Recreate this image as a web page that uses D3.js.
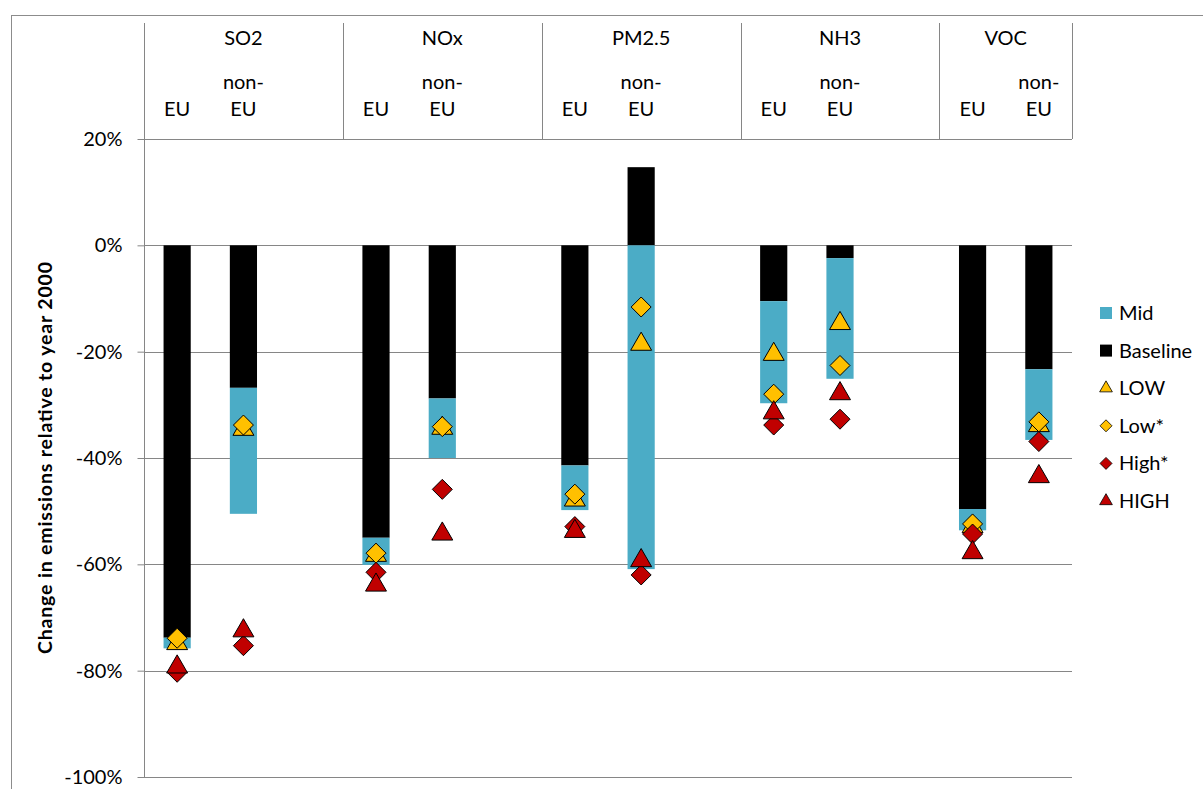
<!DOCTYPE html>
<html>
<head>
<meta charset="utf-8">
<script src="https://cdn.jsdelivr.net/npm/d3@7"></script>
<style>
  body { margin: 0; background: #fff; }
  text { font-family: Lato, "Liberation Sans", sans-serif; }
</style>
</head>
<body>
<svg id="chart" width="1203" height="789"></svg>
<script>
// --- data (percent change relative to 2000) ---
const pollutants = ["SO2", "NOx", "PM2.5", "NH3", "VOC"];
const regions = ["EU", "non-EU"];
// order: SO2 EU, SO2 non-EU, NOx EU, NOx non-EU, ...
const baseline = [-73.8, -26.8, -55.0, -28.8, -41.4, 14.7, -10.5, -2.4, -49.6, -23.3];
const mid      = [-75.8, -50.5, -60.1, -40.0, -49.8, -60.9, -29.7, -25.1, -53.6, -36.6];
const lowTri   = [-74.9, -34.6, -58.3, -34.4, -47.9, -18.6, -20.5, -14.7, -52.9, -33.9];
const lowStar  = [-73.9, -33.8, -57.9, -34.1, -46.8, -11.6, -28.0, -22.6, -52.4, -33.2];
const highStar = [-80.3, -75.3, -61.5, -45.9, -52.9, -62.0, -33.8, -32.7, -54.3, -36.9];
const highTri  = [-79.3, -72.5, -63.9, -54.3, -53.8, -59.3, -31.5, -27.9, -57.8, -43.5];
const yTicks = [20, 0, -20, -40, -60, -80, -100];

const colMid = "#4BACC6", colBase = "#000000", colLow = "#FFC000", colHigh = "#C00000";
const gridCol = "#868686";
const fs = 20;

// slot keys: EU, non-EU and an empty slot between pollutant groups
const slots = [];
pollutants.forEach((p, i) => {
  regions.forEach(r => slots.push(p + "|" + r));
  if (i < pollutants.length - 1) slots.push(p + "|gap");
});
const rows = [];
pollutants.forEach((p, i) => regions.forEach((r, j) => {
  const k = i * 2 + j;
  rows.push({ key: p + "|" + r, p, r, base: baseline[k], mid: mid[k],
    LOW: lowTri[k], LowS: lowStar[k], HighS: highStar[k], HIGH: highTri[k] });
}));

const svg = d3.select("#chart");
const pLeft = 144, pRight = 1072, pTop = 139, pBottom = 777;

const x = d3.scaleBand().domain(slots).range([pLeft, pRight])
  .paddingInner(0.59).paddingOuter(0.295);
const y = d3.scaleLinear().domain([-100, 20]).range([pBottom, pTop]);
const cx = k => x(k) + x.bandwidth() / 2;
const slotStart = k => x(k) - (x.step() - x.bandwidth()) / 2;

// outer border
svg.append("rect").attr("x", 11.5).attr("y", 15.5).attr("width", 1300).attr("height", 900)
  .attr("fill", "none").attr("stroke", "#8c8c8c").attr("stroke-width", 1);

// gridlines
svg.append("g").selectAll("line").data(yTicks).join("line")
  .attr("x1", pLeft).attr("x2", pRight)
  .attr("y1", d => Math.round(y(d)) + 0.5).attr("y2", d => Math.round(y(d)) + 0.5)
  .attr("stroke", gridCol).attr("stroke-width", 1);

// y axis
const yAxis = svg.append("g").attr("transform", `translate(${pLeft + 0.5},0)`)
  .call(d3.axisLeft(y).tickValues(yTicks).tickSize(7).tickPadding(15)
    .tickFormat(d => d + "%"));
yAxis.select(".domain").remove();
yAxis.selectAll(".tick line").attr("stroke", gridCol);
yAxis.selectAll(".tick text").attr("font-size", fs).attr("fill", "#000")
  .style("font-family", "Lato, sans-serif");
svg.append("line").attr("x1", pLeft + 0.5).attr("x2", pLeft + 0.5)
  .attr("y1", 23).attr("y2", pBottom).attr("stroke", gridCol);

// header table
const groupBounds = pollutants.map((p, i) => {
  const x0 = slotStart(p + "|EU");
  const x1 = i < pollutants.length - 1 ? slotStart(pollutants[i + 1] + "|EU") : pRight;
  return { p, x0, x1 };
});
const header = svg.append("g");
header.selectAll("line.sep").data(groupBounds.map(d => d.x1)).join("line")
  .attr("x1", d => Math.round(d) + 0.5).attr("x2", d => Math.round(d) + 0.5)
  .attr("y1", 23).attr("y2", pTop).attr("stroke", gridCol);
header.selectAll("text.pol").data(groupBounds).join("text")
  .attr("x", d => (d.x0 + d.x1) / 2).attr("y", 45)
  .attr("text-anchor", "middle").attr("font-size", fs).text(d => d.p);
header.selectAll("text.reg").data(rows).join("text")
  .attr("x", d => cx(d.key)).attr("y", 116)
  .attr("text-anchor", "middle").attr("font-size", fs).text("EU");
header.selectAll("text.non").data(rows.filter(d => d.r === "non-EU")).join("text")
  .attr("x", d => cx(d.key)).attr("y", 89)
  .attr("text-anchor", "middle").attr("font-size", fs).text("non-");

// bars: baseline from 0, mid continues from baseline (or from 0 if baseline > 0)
const bars = svg.append("g");
bars.selectAll("rect.base").data(rows).join("rect")
  .attr("x", d => x(d.key)).attr("width", x.bandwidth())
  .attr("y", d => y(Math.max(0, d.base))).attr("height", d => Math.abs(y(d.base) - y(0)))
  .attr("fill", colBase);
bars.selectAll("rect.mid").data(rows).join("rect")
  .attr("x", d => x(d.key)).attr("width", x.bandwidth())
  .attr("y", d => y(Math.min(0, d.base))).attr("height", d => y(d.mid) - y(Math.min(0, d.base)))
  .attr("fill", colMid);

// markers
const tri = d3.symbol().type(d3.symbolTriangle).size(190);
const dia = s => `M0,${-s}L${s},0L0,${s}L${-s},0Z`;
const series = [
  { field: "LOW", shape: "tri", fill: colLow },
  { field: "LowS", shape: "dia", fill: colLow },
  { field: "HighS", shape: "dia", fill: colHigh },
  { field: "HIGH", shape: "tri", fill: colHigh }
];
series.forEach(s => {
  svg.append("g").selectAll("path").data(rows).join("path")
    .attr("transform", d => `translate(${cx(d.key)},${y(d[s.field])})`)
    .attr("d", s.shape === "tri" ? tri() : dia(10))
    .attr("fill", s.fill).attr("stroke", "#000").attr("stroke-width", 1)
    .attr("stroke-linejoin", "miter");
});

// y title
svg.append("text")
  .attr("transform", `translate(52,${(pTop + pBottom) / 2}) rotate(-90)`)
  .attr("text-anchor", "middle").attr("font-size", 19.5).attr("font-weight", "bold")
  .attr("textLength", 392).attr("lengthAdjust", "spacing")
  .text("Change in emissions relative to year 2000");

// legend
const legendItems = [
  { name: "Mid", kind: "sq", fill: colMid },
  { name: "Baseline", kind: "sq", fill: colBase },
  { name: "LOW", kind: "tri", fill: colLow },
  { name: "Low*", kind: "dia", fill: colLow },
  { name: "High*", kind: "dia", fill: colHigh },
  { name: "HIGH", kind: "tri", fill: colHigh }
];
const lg = svg.append("g").selectAll("g").data(legendItems).join("g")
  .attr("transform", (d, i) => `translate(1106,${313 + i * 37.6})`);
lg.filter(d => d.kind === "sq").append("rect")
  .attr("x", -6).attr("y", -6).attr("width", 12).attr("height", 12).attr("fill", d => d.fill);
lg.filter(d => d.kind === "tri").append("path")
  .attr("d", d3.symbol().type(d3.symbolTriangle).size(70)())
  .attr("fill", d => d.fill).attr("stroke", "#000").attr("stroke-width", 0.8);
lg.filter(d => d.kind === "dia").append("path")
  .attr("d", dia(6))
  .attr("fill", d => d.fill).attr("stroke", "#000").attr("stroke-width", 0.8);
lg.append("text").attr("x", 13).attr("y", 0).attr("dy", "0.35em")
  .attr("font-size", fs).text(d => d.name);
</script>
</body>
</html>
